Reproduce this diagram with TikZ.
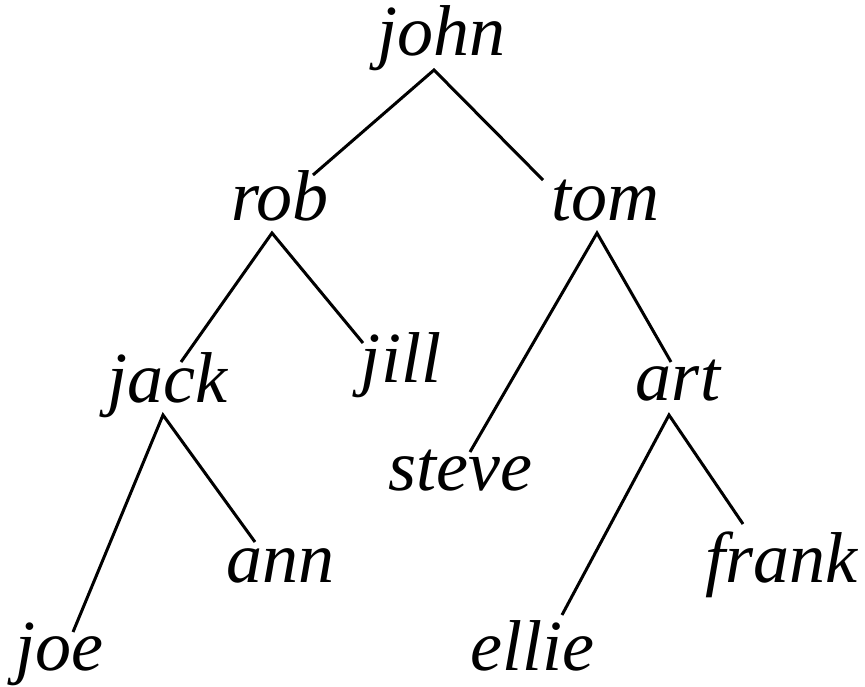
\documentclass[tikz,border=0pt]{standalone}
\usepackage{fontspec}
\setmainfont{Liberation Serif}
\begin{document}
\begin{tikzpicture}[x=1pt,y=-1pt,
  treelabel/.style={anchor=base,inner sep=0pt,font=\fontsize{72}{86}\selectfont\itshape},
  treeedge/.style={line width=3pt,line cap=butt,line join=miter}]
\useasboundingbox (0,0) rectangle (865,686);
\node[treelabel] (john)  at (441,55)  {john};
\node[treelabel] (rob)   at (280,220) {rob};
\node[treelabel] (tom)   at (605,220) {tom};
\node[treelabel] (jack)  at (167,402) {jack};
\node[treelabel] (jill)  at (401,382) {jill};
\node[treelabel] (art)   at (678,400) {art};
\node[treelabel] (steve) at (460,490) {steve};
\node[treelabel] (ann)   at (280,582) {ann};
\node[treelabel] (frank) at (781,582) {frank};
\node[treelabel] (joe)   at (59,670)  {joe};
\node[treelabel] (ellie) at (532,670) {ellie};
\draw[treeedge] ([shift={(33,-45)}]rob.base) -- ([shift={(-7,15)}]john.base) -- ([shift={(-62,-40)}]tom.base);
\draw[treeedge] ([shift={(14,-40)}]jack.base) -- ([shift={(-8,13)}]rob.base) -- ([shift={(-38,-39)}]jill.base);
\draw[treeedge] ([shift={(10,-38)}]steve.base) -- ([shift={(-8,13)}]tom.base) -- ([shift={(-7,-38)}]art.base);
\draw[treeedge] ([shift={(14,-38)}]joe.base) -- ([shift={(-4,13)}]jack.base) -- ([shift={(-25,-40)}]ann.base);
\draw[treeedge] ([shift={(30,-55)}]ellie.base) -- ([shift={(-9,15)}]art.base) -- ([shift={(-38,-58)}]frank.base);
\end{tikzpicture}
\end{document}
